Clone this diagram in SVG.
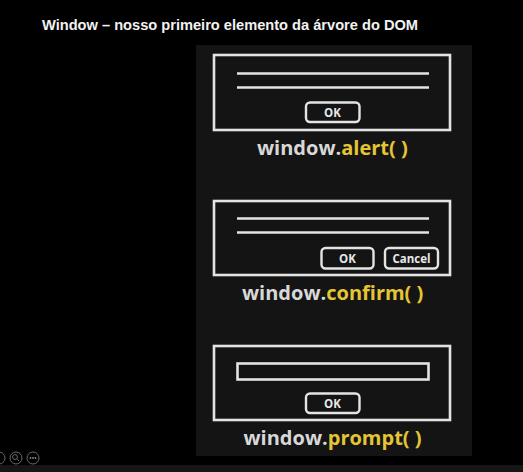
<svg xmlns="http://www.w3.org/2000/svg" width="523" height="472" viewBox="0 0 523 472">
<style>
.box{fill:none;stroke:#e4e4e4;stroke-width:2.6}
.ln{stroke:#e4e4e4;stroke-width:2.6;stroke-linecap:butt}
.btn{fill:#141414;stroke:#e4e4e4;stroke-width:2.4}
.bt{font-family:"Open Sans","DejaVu Sans",sans-serif;font-weight:bold;font-size:11.5px;fill:#e8e8e8;text-anchor:middle}
.lbl{font-family:"Open Sans","DejaVu Sans",sans-serif;font-weight:bold;font-size:20px;fill:#d8d8d8}
.y{fill:#e3c536}
.ic{fill:none;stroke:#6a6a6a;stroke-width:1}
</style>
<rect x="0" y="0" width="523" height="472" fill="#000"/>
<rect x="0" y="465" width="523" height="7" fill="#161616"/>
<text x="42" y="30" font-family="Liberation Sans, Arial, sans-serif" font-weight="bold" font-size="14.6" fill="#f2f2f2" textLength="376" lengthAdjust="spacingAndGlyphs">Window – nosso primeiro elemento da árvore do DOM</text>
<rect id="panel" x="196" y="45" width="276" height="411" fill="#141414"/>
<g id="alert">
<rect class="box" x="214" y="55" width="236" height="75"/>
<line class="ln" x1="237" y1="73.5" x2="429" y2="73.5"/>
<line class="ln" x1="237" y1="87.5" x2="429" y2="87.5"/>
<rect class="btn" x="306" y="102.5" width="53.5" height="19.5" rx="4"/>
<text class="bt" x="332.5" y="116.5">OK</text>
<text class="lbl" x="257" y="155">window.<tspan class="y">alert( )</tspan></text>
</g>
<g id="confirm">
<rect class="box" x="214" y="201" width="236" height="74"/>
<line class="ln" x1="237" y1="218.5" x2="429" y2="218.5"/>
<line class="ln" x1="237" y1="232.5" x2="429" y2="232.5"/>
<rect class="btn" x="321.5" y="248" width="52" height="20.5" rx="4"/>
<text class="bt" x="347.5" y="262.5">OK</text>
<rect class="btn" x="385" y="248" width="53" height="20.5" rx="4"/>
<text class="bt" x="411.5" y="262.5">Cancel</text>
<text class="lbl" x="242" y="300">window.<tspan class="y">confirm( )</tspan></text>
</g>
<g id="prompt">
<rect class="box" x="214" y="346" width="236" height="74"/>
<rect class="box" x="237.5" y="363.5" width="191" height="16" stroke-width="2.2"/>
<rect class="btn" x="306" y="393.5" width="53.5" height="19.5" rx="4"/>
<text class="bt" x="332.5" y="407.5">OK</text>
<text class="lbl" x="243.5" y="445">window.<tspan class="y">prompt( )</tspan></text>
</g>
<g id="icons">
<circle class="ic" cx="-1" cy="458" r="6"/>
<circle class="ic" cx="16" cy="458" r="6"/>
<circle class="ic" cx="15" cy="457" r="2.4"/>
<line class="ic" x1="16.8" y1="458.8" x2="19" y2="461"/>
<circle class="ic" cx="33" cy="458" r="6"/>
<circle cx="30.5" cy="458" r="0.9" fill="#8a8a8a"/>
<circle cx="33" cy="458" r="0.9" fill="#8a8a8a"/>
<circle cx="35.5" cy="458" r="0.9" fill="#8a8a8a"/>
</g>
</svg>
